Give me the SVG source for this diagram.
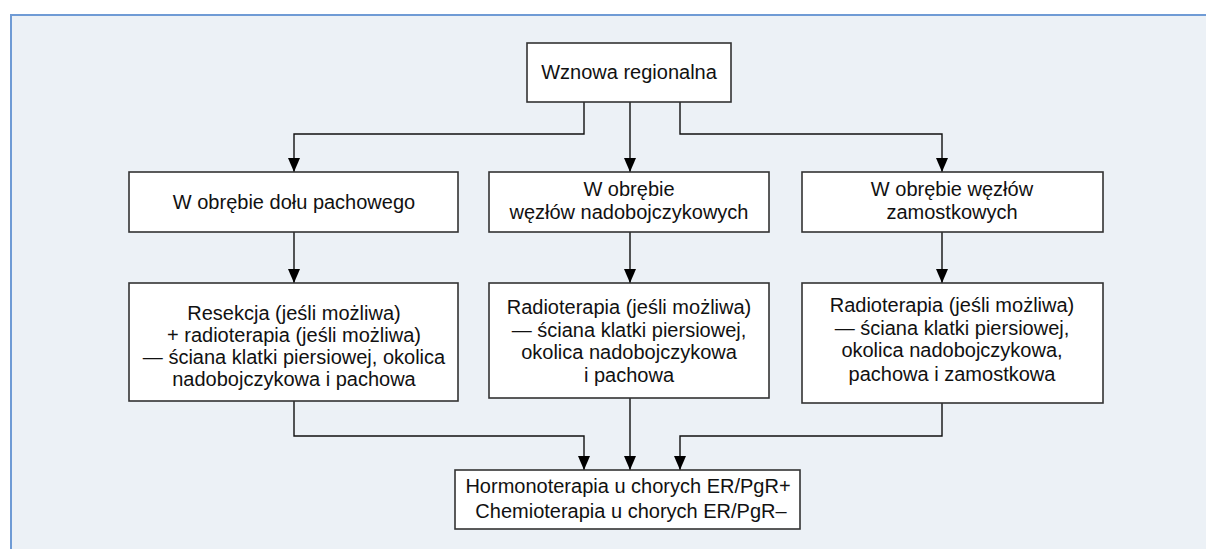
<svg xmlns="http://www.w3.org/2000/svg" width="1206" height="549" viewBox="0 0 1206 549">
  <defs>
    <marker id="arrow" viewBox="0 0 14 12" refX="14" refY="6" markerWidth="14" markerHeight="12" markerUnits="userSpaceOnUse" orient="auto">
      <path d="M0,0 L14,6 L0,12 Z" fill="#000"/>
    </marker>
    <style>
      .panel { fill: #ECF1F6; }
      .panel-edge { fill: none; stroke: #6F9BD5; stroke-width: 2; }
      .box { fill: #FFFFFF; stroke: #333333; stroke-width: 1.6; }
      .conn { fill: none; stroke: #111111; stroke-width: 1.4; marker-end: url(#arrow); }
      text { font-family: "Liberation Sans", Arial, sans-serif; font-size: 20px; fill: #111111; text-anchor: middle; }
    </style>
  </defs>

  <!-- background panel with blue top/left rule -->
  <rect class="panel" x="10" y="14" width="1196" height="535"/>
  <path class="panel-edge" d="M11,549 V15 H1206"/>

  <!-- connectors -->
  <g id="connectors">
    <path class="conn" d="M584,102 V134 H294 V172"/>
    <path class="conn" d="M630,102 V172"/>
    <path class="conn" d="M680,102 V134 H942 V172"/>
    <path class="conn" d="M294,232 V283"/>
    <path class="conn" d="M630,232 V283"/>
    <path class="conn" d="M942,232 V283"/>
    <path class="conn" d="M294,401 V436 H584 V470"/>
    <path class="conn" d="M630,398 V470"/>
    <path class="conn" d="M942,403 V436 H680 V470"/>
  </g>

  <g id="node-root">
    <rect class="box" x="527" y="43" width="204" height="59"/>
    <text x="629" y="79">Wznowa regionalna</text>
  </g>

  <g id="node-axilla">
    <rect class="box" x="129" y="172" width="329" height="60"/>
    <text x="294" y="209">W obrębie dołu pachowego</text>
  </g>

  <g id="node-supraclavicular">
    <rect class="box" x="489" y="172" width="280" height="60"/>
    <text x="629" y="196">W obrębie</text>
    <text x="629" y="219">węzłów nadobojczykowych</text>
  </g>

  <g id="node-parasternal">
    <rect class="box" x="802" y="172" width="301" height="60"/>
    <text x="952" y="196">W obrębie węzłów</text>
    <text x="952" y="219">zamostkowych</text>
  </g>

  <g id="node-axilla-treatment">
    <rect class="box" x="129" y="283" width="329" height="118"/>
    <text x="294" y="320">Resekcja (jeśli możliwa)</text>
    <text x="294" y="342">+ radioterapia (jeśli możliwa)</text>
    <text x="294" y="364">— ściana klatki piersiowej, okolica</text>
    <text x="294" y="386">nadobojczykowa i pachowa</text>
  </g>

  <g id="node-supraclavicular-treatment">
    <rect class="box" x="489" y="283" width="280" height="115"/>
    <text x="629" y="314">Radioterapia (jeśli możliwa)</text>
    <text x="629" y="337">— ściana klatki piersiowej,</text>
    <text x="629" y="359">okolica nadobojczykowa</text>
    <text x="629" y="382">i pachowa</text>
  </g>

  <g id="node-parasternal-treatment">
    <rect class="box" x="802" y="283" width="301" height="120"/>
    <text x="952" y="312">Radioterapia (jeśli możliwa)</text>
    <text x="952" y="335">— ściana klatki piersiowej,</text>
    <text x="952" y="357">okolica nadobojczykowa,</text>
    <text x="952" y="381">pachowa i zamostkowa</text>
  </g>

  <g id="node-systemic">
    <rect class="box" x="455" y="470" width="345" height="59"/>
    <text x="628" y="493">Hormonoterapia u chorych ER/PgR+</text>
    <text x="631" y="518">Chemioterapia u chorych ER/PgR–</text>
  </g>
</svg>
